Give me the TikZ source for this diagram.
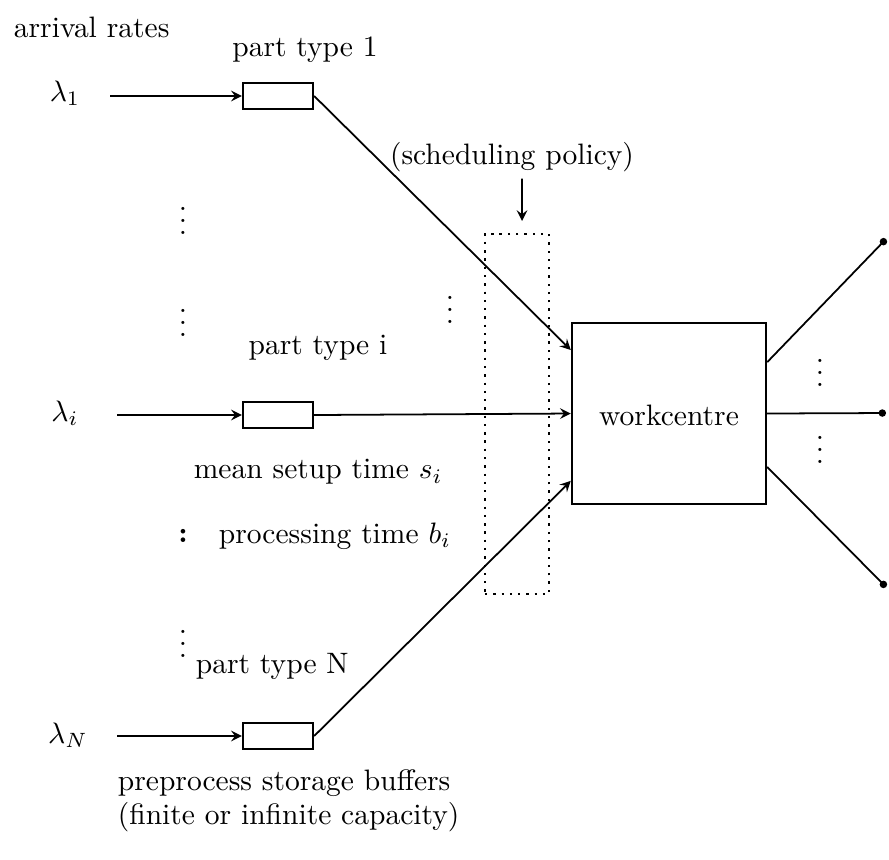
\documentclass[tikz,border=0pt]{standalone}
\usetikzlibrary{arrows.meta}
\tikzset{
  buffer/.style={draw, thick, minimum width=23.7pt, minimum height=8.8pt, inner sep=0pt},
  station/.style={draw, thick, minimum width=65.7pt, minimum height=61.3pt, inner sep=0pt},
  policybox/.style={draw, dotted, thick, minimum width=21.7pt, minimum height=121.9pt, inner sep=0pt},
  lbl/.style={inner sep=0pt},
}
\begin{document}
\begin{tikzpicture}[>=stealth, x=0.3385pt, y=-0.3385pt, semithick]
\useasboundingbox (0,0) rectangle (889,859);
% labels on the left
\node[lbl, anchor=west] (rates) at (13,27) {arrival rates};
\node (lam1) at (65,93) {$\lambda_1$};
\node (lami) at (65,413) {$\lambda_i$};
\node (lamN) at (68,735) {$\lambda_N$};
\coordinate (in1) at (110,96);
\coordinate (ini) at (117,415);
\coordinate (inN) at (117,736);
% storage buffers
\node[buffer] (b1) at (278,96) {};
\node[buffer] (bi) at (278,415) {};
\node[buffer] (bN) at (278,736) {};
\node[lbl] (pt1) at (305,50) {part type 1};
\node[lbl] (pti) at (318,348) {part type i};
\node[lbl, anchor=west] (ptN) at (195,666) {part type N};
\node[lbl, anchor=west] (setup) at (193,472) {mean setup time $s_i$};
\node[lbl] (colon) at (183,536) {\textbf{:}};
\node[lbl, anchor=west] (proc) at (218,536) {processing time $b_i$};
\node[lbl, anchor=west] (store) at (117,783) {preprocess storage buffers};
\node[lbl, anchor=west] (cap) at (117,817) {(finite or infinite capacity)};
% dots
\node[lbl] (d1) at (183,212) {$\vdots$};
\node[lbl] (d2) at (183,314) {$\vdots$};
\node[lbl] (d3) at (183,635) {$\vdots$};
\node[lbl] (d4) at (450,301) {$\vdots$};
% scheduling policy
\node[policybox] (sb) at (517,414) {};
\node[lbl] (pol) at (512,157) {(scheduling policy)};
% workcentre
\node[station] (wc) at (669,413.5) {};
\node[lbl] (wclbl) at (669,415) {workcentre};
\node[lbl] (d5) at (820,364) {$\vdots$};
\node[lbl] (d6) at (820,441) {$\vdots$};
\coordinate (out1) at (886,239);
\coordinate (out2) at (886,413);
\coordinate (out3) at (886,587);
% connectors
\draw[->] (in1) -- (b1.west);
\draw[->] (ini) -- (bi.west);
\draw[->] (inN) -- (bN.west);
\draw[->] (b1.east) -- ([yshift=21.5pt]wc.west);
\draw[->] (bi.east) -- (wc.west);
\draw[->] (bN.east) -- ([yshift=-22.8pt]wc.west);
\draw[->, shorten <=2pt, shorten >=4pt] ([xshift=3.4pt]pol.south) -- ([xshift=1.7pt]sb.north);
\draw[-{Circle[length=2.5pt]}] ([yshift=17.4pt]wc.east) -- (out1);
\draw[-{Circle[length=2.5pt]}] (wc.east) -- (out2);
\draw[-{Circle[length=2.5pt]}] ([yshift=-18.1pt]wc.east) -- (out3);
\end{tikzpicture}
\end{document}
